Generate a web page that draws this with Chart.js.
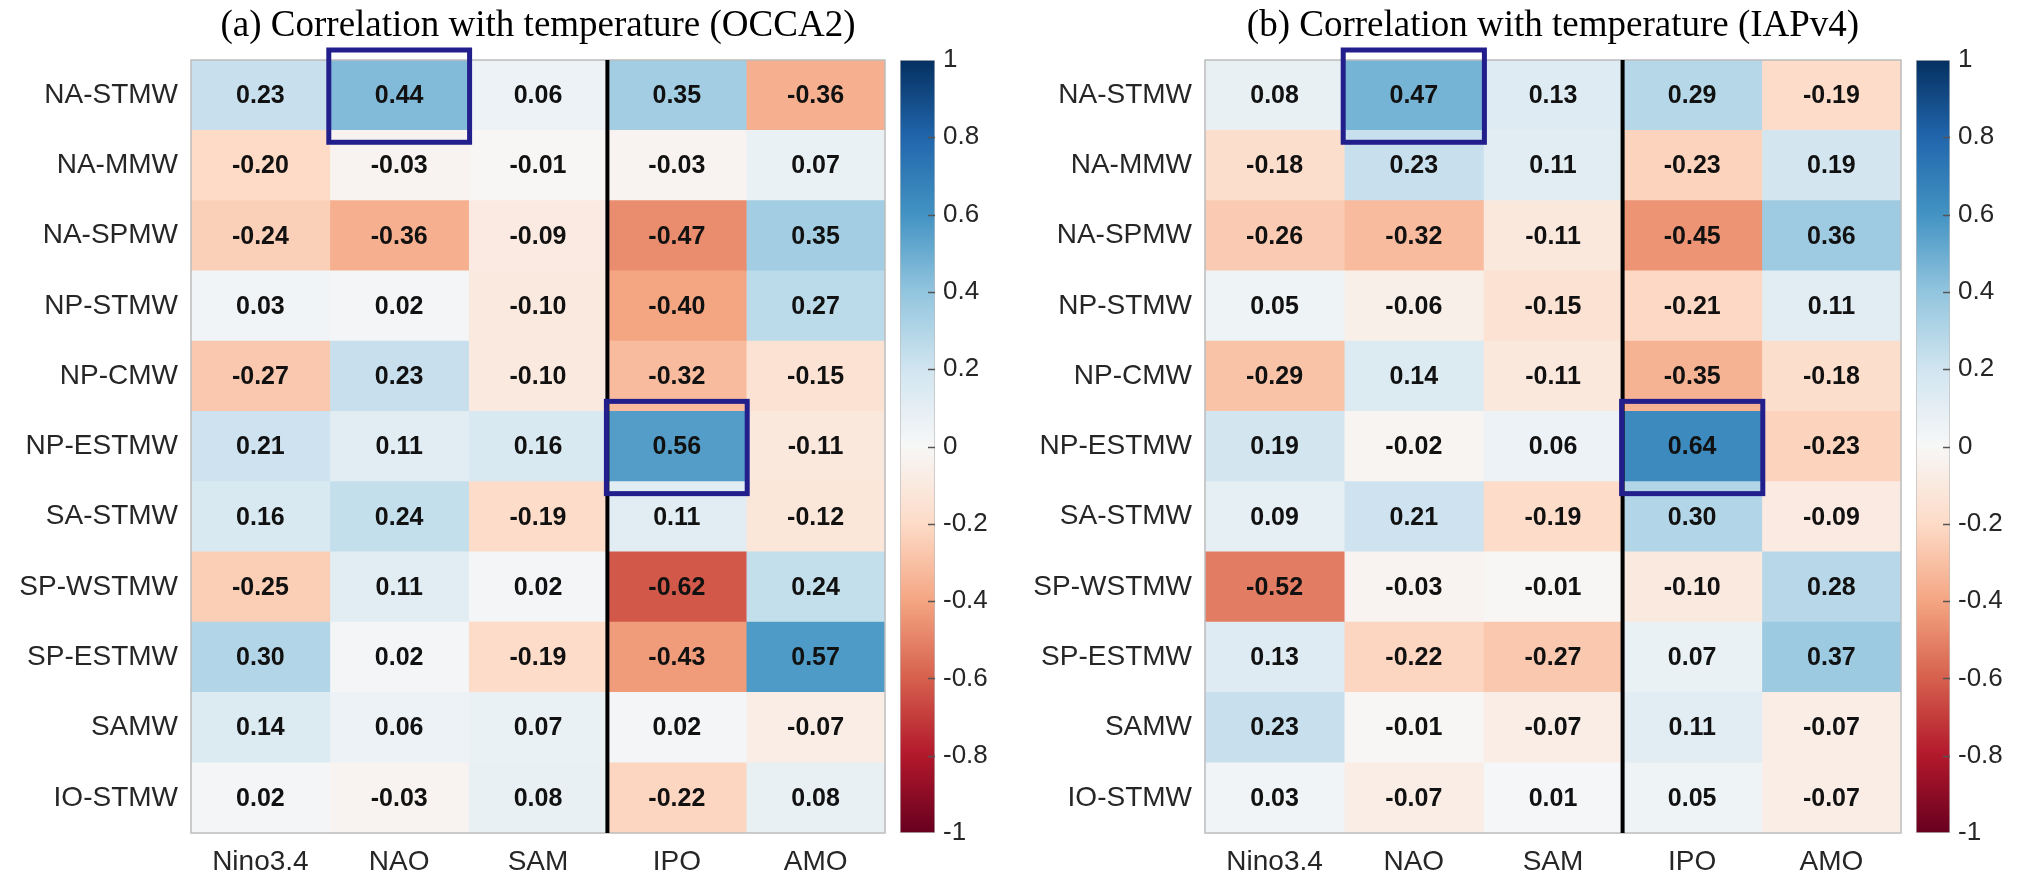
<!DOCTYPE html>
<html><head><meta charset="utf-8">
<script src="https://cdn.jsdelivr.net/npm/chart.js@4.4.1/dist/chart.umd.min.js"></script>
<style>
html,body{margin:0;padding:0;background:#fff;width:2018px;height:875px;overflow:hidden;}
.wrap{position:absolute;top:0;height:875px;}
canvas{display:block}
</style></head><body>
<div class="wrap" style="left:0;width:930px"><canvas id="cA"></canvas></div>
<div class="wrap" style="left:895px;width:120px"><canvas id="cAc"></canvas></div>
<div class="wrap" style="left:1014px;width:932px"><canvas id="cB"></canvas></div>
<div class="wrap" style="left:1911px;width:107px"><canvas id="cBc"></canvas></div>
<script>
// ---------------- data ----------------
const rowLabels = ['NA-STMW','NA-MMW','NA-SPMW','NP-STMW','NP-CMW','NP-ESTMW','SA-STMW','SP-WSTMW','SP-ESTMW','SAMW','IO-STMW'];
const colLabels = ['Nino3.4','NAO','SAM','IPO','AMO'];

const titleA = '(a) Correlation with temperature (OCCA2)';
const occa2Nino34 = [0.23,-0.20,-0.24,0.03,-0.27,0.21,0.16,-0.25,0.30,0.14,0.02];
const occa2NAO    = [0.44,-0.03,-0.36,0.02,0.23,0.11,0.24,0.11,0.02,0.06,-0.03];
const occa2SAM    = [0.06,-0.01,-0.09,-0.10,-0.10,0.16,-0.19,0.02,-0.19,0.07,0.08];
const occa2IPO    = [0.35,-0.03,-0.47,-0.40,-0.32,0.56,0.11,-0.62,-0.43,0.02,-0.22];
const occa2AMO    = [-0.36,0.07,0.35,0.27,-0.15,-0.11,-0.12,0.24,0.57,-0.07,0.08];

const titleB = '(b) Correlation with temperature (IAPv4)';
const iap4Nino34 = [0.08,-0.18,-0.26,0.05,-0.29,0.19,0.09,-0.52,0.13,0.23,0.03];
const iap4NAO    = [0.47,0.23,-0.32,-0.06,0.14,-0.02,0.21,-0.03,-0.22,-0.01,-0.07];
const iap4SAM    = [0.13,0.11,-0.11,-0.15,-0.11,0.06,-0.19,-0.01,-0.27,-0.07,0.01];
const iap4IPO    = [0.29,-0.23,-0.45,-0.21,-0.35,0.64,0.30,-0.10,0.07,0.11,0.05];
const iap4AMO    = [-0.19,0.19,0.36,0.11,-0.18,-0.23,-0.09,0.28,0.37,-0.07,-0.07];

const highlightsA = [{row:'NA-STMW', col:'NAO'}, {row:'NP-ESTMW', col:'IPO'}];
const highlightsB = [{row:'NA-STMW', col:'NAO'}, {row:'NP-ESTMW', col:'IPO'}];
const dividerBefore = 'IPO';

const cbMin = -1, cbMax = 1, cbStep = 0.2;
// RdBu colormap anchors from -1 to 1
const rdbuStops = ['#67001f','#b2182b','#d6604d','#f4a582','#fddbc7','#f7f7f7','#d1e5f0','#92c5de','#4393c3','#2166ac','#053061'];

// ---------------- helpers ----------------
const SANS = '"Liberation Sans", Arial, Helvetica, sans-serif';
const SERIF = '"Liberation Serif", "Times New Roman", serif';
Chart.defaults.font.family = SANS;

function hex2rgb(h){ return [parseInt(h.slice(1,3),16), parseInt(h.slice(3,5),16), parseInt(h.slice(5,7),16)]; }
const stopRGB = rdbuStops.map(hex2rgb);
function rdbu(v){
  const t = (Math.max(cbMin, Math.min(cbMax, v)) - cbMin) / (cbMax - cbMin) * (stopRGB.length - 1);
  const i = Math.min(Math.floor(t), stopRGB.length - 2);
  const f = t - i;
  const a = stopRGB[i], b = stopRGB[i+1];
  return 'rgb(' + a.map((c,k)=>Math.round(c + (b[k]-c)*f)).join(',') + ')';
}

const heatPlugin = {
  id: 'heatExtras',
  afterDatasetsDraw(chart, args, opts){
    const ctx = chart.ctx;
    const {left, right, top, bottom} = chart.chartArea;
    const xs = chart.scales.x, ys = chart.scales.y;
    ctx.save();
    // border
    ctx.strokeStyle = '#bcbcbc'; ctx.lineWidth = 1.5;
    ctx.strokeRect(left, top, right-left, bottom-top);
    // cell values
    ctx.font = 'bold 25px ' + SANS;
    ctx.fillStyle = '#111';
    ctx.textAlign = 'center'; ctx.textBaseline = 'middle';
    chart.data.datasets.forEach((ds, di) => {
      const meta = chart.getDatasetMeta(di);
      meta.data.forEach((bar, i) => {
        const p = bar.getProps(['x','y','base'], true);
        ctx.fillText(ds.values[i].toFixed(2), (p.x + p.base)/2, p.y + 1);
      });
    });
    // divider line
    const dx = xs.getPixelForValue(colLabels.indexOf(opts.divider));
    ctx.strokeStyle = '#000'; ctx.lineWidth = 4;
    ctx.beginPath(); ctx.moveTo(dx, top); ctx.lineTo(dx, bottom); ctx.stroke();
    // highlight boxes
    const rowH = ys.getPixelForValue(1) - ys.getPixelForValue(0);
    ctx.strokeStyle = '#221f8c'; ctx.lineWidth = 5;
    (opts.highlights || []).forEach(h => {
      const c = colLabels.indexOf(h.col), r = rowLabels.indexOf(h.row);
      const x0 = xs.getPixelForValue(c) - 1, x1 = xs.getPixelForValue(c+1) + 1;
      const yc = ys.getPixelForValue(r);
      const y0 = yc - rowH/2 - 10, y1 = yc + rowH/2 + 12;
      ctx.strokeRect(x0, y0, x1-x0, y1-y0);
    });
    ctx.restore();
  }
};

function heatmapConfig(title, columns, highlights){
  return {
    type: 'bar',
    data: {
      labels: rowLabels,
      datasets: columns.map((vals, j) => ({
        label: colLabels[j],
        data: vals.map(() => [j, j+1]),
        values: vals,
        backgroundColor: vals.map(rdbu),
        borderWidth: 0,
        barPercentage: 1, categoryPercentage: 1, grouped: false
      }))
    },
    options: {
      responsive: true, maintainAspectRatio: false, animation: false,
      indexAxis: 'y',
      layout: {padding: {left: 0, right: 45, top: 0, bottom: 0}},
      plugins: {
        legend: {display: false}, tooltip: {enabled: false},
        title: {display: true, text: title, fullSize: false, align: 'center', color: '#000',
                font: {family: SERIF, size: 37, weight: 'normal', lineHeight: 1.2},
                padding: {top: 4, bottom: 11.6}},
        heatExtras: {divider: dividerBefore, highlights: highlights}
      },
      scales: {
        x: {type: 'linear', min: 0, max: 5, position: 'bottom',
            afterBuildTicks: s => { s.ticks = colLabels.map((c, i) => ({value: i + 0.5})); },
            ticks: {callback: (v, i) => colLabels[i], padding: 12, maxRotation: 0, autoSkip: false,
                    color: '#262626', font: {family: SANS, size: 28}},
            grid: {display: false, drawTicks: false}, border: {display: false},
            afterFit: s => { s.height = 42; }},
        y: {type: 'category', position: 'left', offset: true,
            ticks: {padding: 13, autoSkip: false, color: '#262626', font: {family: SANS, size: 28}},
            grid: {display: false, drawTicks: false}, border: {display: false},
            afterFit: s => { s.width = 191; }}
      }
    },
    plugins: [heatPlugin]
  };
}

function cbGradient(chart){
  const ys = chart.scales.y;
  if (!ys || !chart.chartArea) return rdbuStops[5];
  const g = chart.ctx.createLinearGradient(0, ys.getPixelForValue(cbMin), 0, ys.getPixelForValue(cbMax));
  rdbuStops.forEach((c, i) => g.addColorStop(i / (rdbuStops.length - 1), c));
  return g;
}

const cbTickPlugin = {
  id: 'cbTicks',
  afterDatasetsDraw(chart){
    const ctx = chart.ctx, ys = chart.scales.y, {right} = chart.chartArea;
    ctx.save();
    ctx.strokeStyle = '#555'; ctx.lineWidth = 1.5;
    ys.ticks.forEach(t => {
      if (t.value <= cbMin || t.value >= cbMax) return;
      const y = Math.round(ys.getPixelForValue(t.value)) + 0.5;
      ctx.beginPath(); ctx.moveTo(right - 7, y); ctx.lineTo(right, y); ctx.stroke();
    });
    ctx.restore();
  }
};

function colorbarConfig(axisWidth){
  return {
    type: 'bar',
    data: {labels: ['cb'], datasets: [{
      data: [[cbMin, cbMax]],
      backgroundColor: c => cbGradient(c.chart),
      borderColor: '#bcbcbc', borderWidth: 1, borderSkipped: false,
      barPercentage: 1, categoryPercentage: 1
    }]},
    options: {
      responsive: true, maintainAspectRatio: false, animation: false,
      layout: {padding: {left: 5, right: 0, top: 60, bottom: 42}},
      plugins: {legend: {display: false}, tooltip: {enabled: false}},
      scales: {
        x: {type: 'category', display: false, offset: true},
        y: {type: 'linear', position: 'right', min: cbMin, max: cbMax,
            ticks: {stepSize: cbStep, padding: 8, color: '#262626', font: {family: SANS, size: 26},
                    callback: v => { const r = Math.round(v * 10) / 10; return (r === 0 ? 0 : r).toString(); }},
            grid: {display: false, drawTicks: false}, border: {display: false},
            afterFit: s => { s.width = axisWidth; }}
      }
    },
    plugins: [cbTickPlugin]
  };
}

new Chart(document.getElementById('cA'), heatmapConfig(titleA, [occa2Nino34, occa2NAO, occa2SAM, occa2IPO, occa2AMO], highlightsA));
new Chart(document.getElementById('cAc'), colorbarConfig(80));
new Chart(document.getElementById('cB'), heatmapConfig(titleB, [iap4Nino34, iap4NAO, iap4SAM, iap4IPO, iap4AMO], highlightsB));
new Chart(document.getElementById('cBc'), colorbarConfig(68));
</script>
</body></html>
